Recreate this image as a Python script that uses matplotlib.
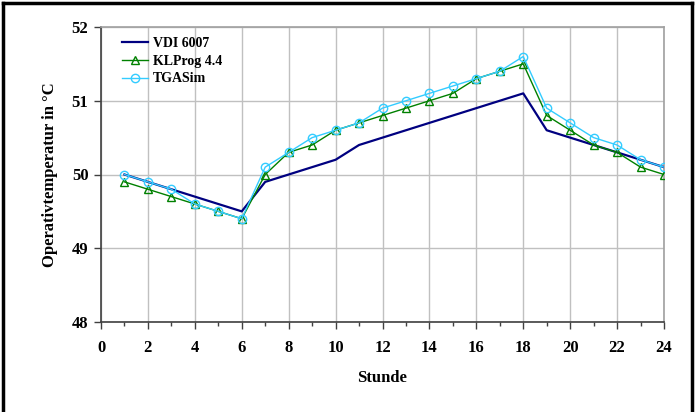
import numpy as np
import matplotlib.pyplot as plt
from matplotlib.lines import Line2D

plt.rcParams['font.family'] = ['Liberation Serif', 'DejaVu Serif']
plt.rcParams['font.weight'] = 'bold'

hours = list(range(1, 25))
vdi = [50.0, 49.9, 49.8, 49.7, 49.6, 49.5, 49.9, 50.0, 50.1, 50.2, 50.4, 50.5,
       50.6, 50.7, 50.8, 50.9, 51.0, 51.1, 50.6, 50.5, 50.4, 50.3, 50.2, 50.1]
klprog = [49.9, 49.8, 49.7, 49.6, 49.5, 49.4, 50.0, 50.3, 50.4, 50.6, 50.7, 50.8,
          50.9, 51.0, 51.1, 51.3, 51.4, 51.5, 50.8, 50.6, 50.4, 50.3, 50.1, 50.0]
tgasim = [50.0, 49.9, 49.8, 49.6, 49.5, 49.4, 50.1, 50.3, 50.5, 50.6, 50.7, 50.9,
          51.0, 51.1, 51.2, 51.3, 51.4, 51.6, 50.9, 50.7, 50.5, 50.4, 50.2, 50.1]

W, H = 699, 412
fig = plt.figure(figsize=(W / 100, H / 100), dpi=100)
ax = fig.add_axes([101 / W, 1 - 322 / H, (664 - 101) / W, (322 - 27) / H])

ax.plot(hours, vdi, color='#000080', lw=1.6, label='VDI 6007', zorder=3)
ax.plot(hours, klprog, color='#008000', lw=1.0, marker='^', ms=5.5,
        mfc='none', mec='#008000', mew=1.0, label='KLProg 4.4', zorder=4)
ax.plot(hours, tgasim, color='#33CCFF', lw=1.0, marker='o', ms=6,
        mfc='none', mec='#33CCFF', mew=1.0, label='TGASim', zorder=5)

ax.set_xlim(0, 24)
ax.set_ylim(48, 52)
ax.set_xticks(range(0, 25, 2))
ax.set_xticks(range(1, 25, 2), minor=True)
ax.set_yticks(range(48, 53))
ax.grid(True, which='major', color='#c0c0c0', lw=1.0)
ax.set_axisbelow(True)

ax.tick_params(axis='both', which='major', direction='out', length=5,
               width=1, labelsize=12, color='#404040')
ax.tick_params(axis='x', which='minor', direction='out', length=3, width=1,
               color='#404040')
ax.tick_params(axis='x', pad=8)
ax.tick_params(axis='y', pad=4)
for lab in ax.get_xticklabels() + ax.get_yticklabels():
    lab.set_fontweight('bold')

for s in ['left', 'bottom']:
    ax.spines[s].set_color('#404040')
    ax.spines[s].set_linewidth(1.2)
for s in ['top', 'right']:
    ax.spines[s].set_color('#a0a0a0')
    ax.spines[s].set_linewidth(1.2)

ax.set_xlabel('Stunde', fontsize=12, fontweight='bold', labelpad=10)
ax.set_ylabel('Operativtemperatur in °C', fontsize=12, fontweight='bold',
              labelpad=10)

leg = ax.legend(loc='upper left', bbox_to_anchor=(0.02, 1.0), frameon=False,
                prop={'weight': 'bold', 'size': 10}, handlelength=1.9,
                handletextpad=0.3, labelspacing=0.35, borderaxespad=0.3)

# outer chart border (bottom edge lies below the image)
for xs, ys in [([3 / W, 3 / W], [0, 1 - 3 / H]),
               ([3 / W, 692 / W], [1 - 3 / H, 1 - 3 / H]),
               ([692 / W, 692 / W], [1 - 3 / H, 0])]:
    fig.add_artist(Line2D(xs, ys, transform=fig.transFigure, color='black', lw=2.5))

fig.savefig('out.png', dpi=100)
